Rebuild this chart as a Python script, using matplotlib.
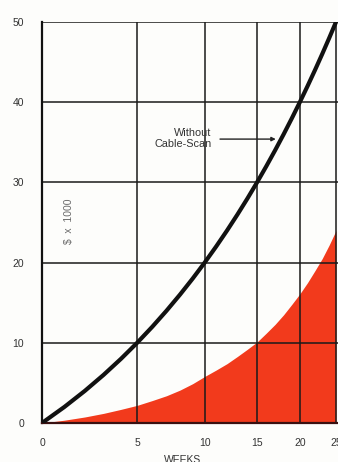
import numpy as np
import matplotlib
matplotlib.use("Agg")
import matplotlib.pyplot as plt

plt.rcParams["font.family"] = ["Liberation Sans", "DejaVu Sans"]

weeks = list(range(0, 26))
without_scan = [0, 2, 4, 6, 8, 10, 12, 14, 16, 18, 20, 22, 24, 26, 28, 30,
                32, 34, 36, 38, 40, 42, 44, 46, 48, 50]
with_scan = [0, 0.35, 0.75, 1.2, 1.7, 2.2, 2.8, 3.4, 4.1, 4.9, 5.8, 6.6, 7.4,
             8.3, 9.2, 10.1, 11.2, 12.3, 13.5, 14.8, 16.1, 17.5, 19.0, 20.5,
             22.2, 24.0]
x_ticks = [0, 5, 10, 15, 20, 25]
y_ticks = [0, 10, 20, 30, 40, 50]

W, H = 338, 462
fig = plt.figure(figsize=(W / 100, H / 100), dpi=100)
fig.patch.set_facecolor("#fdfdfb")
ax = fig.add_axes([42 / W, (H - 423) / H, (W - 42) / W, (423 - 22) / H])
ax.set_facecolor("#fdfdfb")

fwd = lambda x: np.log10(np.asarray(x, dtype=float) + 10)
inv = lambda y: 10 ** np.asarray(y, dtype=float) - 10
ax.set_xscale("function", functions=(fwd, inv))
ax.set_xlim(0, 25.3)
ax.set_ylim(0, 50)

ax.fill_between(weeks, 0, with_scan, color="#f23a1c", lw=0, zorder=1)
ax.plot(weeks, without_scan, color="#111111", lw=3.0, zorder=4,
        solid_capstyle="round")

for xv in x_ticks[1:]:
    ax.axvline(xv, color="#1a1a1a", lw=1.1, zorder=2)
for yv in y_ticks[1:]:
    ax.axhline(yv, color="#1a1a1a", lw=1.1, zorder=2)

for s in ["right", "top"]:
    ax.spines[s].set_visible(False)
ax.spines["left"].set_linewidth(1.6)
ax.spines["bottom"].set_linewidth(1.6)
ax.spines["left"].set_color("#111111")
ax.spines["bottom"].set_color("#3a1010")

ax.set_xticks(x_ticks)
ax.set_xticklabels([str(v) for v in x_ticks])
ax.set_yticks(y_ticks)
ax.set_yticklabels([str(v) for v in y_ticks])
ax.tick_params(axis="both", length=0, labelsize=7.5, colors="#333333")
ax.tick_params(axis="y", pad=13)
ax.tick_params(axis="x", pad=11)
ax.minorticks_off()

ax.text(1.2, 25.2, "$  x  1000", rotation=90, fontsize=7.5, color="#6a6a6a",
        ha="center", va="center")

ax.text(10.6, 35.5, "Without\nCable-Scan", fontsize=7.8, color="#333333",
        ha="right", va="center", linespacing=1.1)
ax.annotate("", xy=(17.4, 35.4), xytext=(11.1, 35.4),
            arrowprops=dict(arrowstyle="-|>", color="#222222", lw=1.0,
                            mutation_scale=6), zorder=5)

fig.text(183 / W, 1 - 460 / H, "WEEKS", fontsize=7.5, color="#333333",
         ha="center", va="center")

fig.savefig("out.png", dpi=100, facecolor=fig.get_facecolor())
